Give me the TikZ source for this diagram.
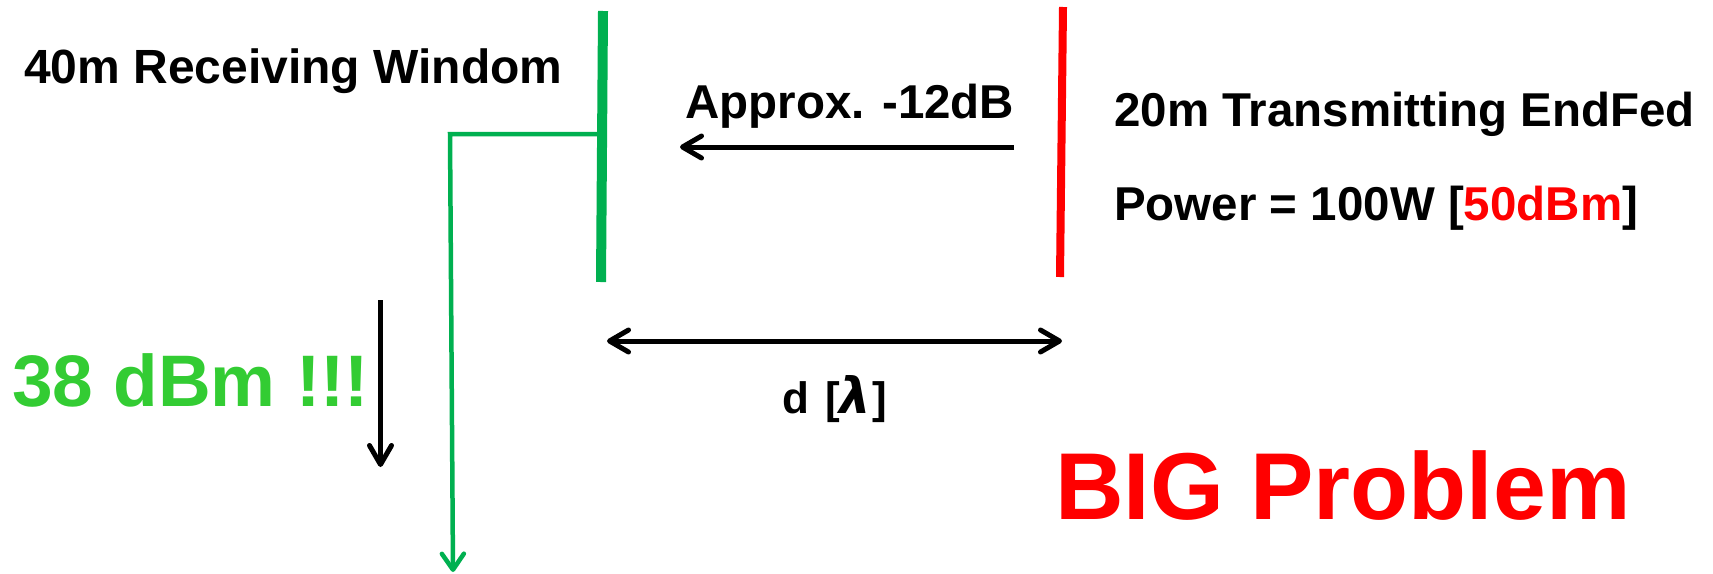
\documentclass[tikz,border=0pt]{standalone}
\usepackage{fontspec}
\setmainfont{Liberation Sans}
\newfontfamily\greekfont{DejaVu Sans}
\usetikzlibrary{arrows.meta}
\definecolor{antgreen}{HTML}{00B050}
\definecolor{txtgreen}{HTML}{33CC33}
\definecolor{antred}{HTML}{FF0000}
\begin{document}
\begin{tikzpicture}[x=1pt,y=-1pt,
  lbl/.style={anchor=base west, inner sep=0pt, font=\bfseries\fontsize{47.5}{57}\selectfont},
  barb/.style={-{Straight Barb[round,length=19pt,width=22pt]}},
  barbs/.style={{Straight Barb[round,length=19pt,width=22pt]}-{Straight Barb[round,length=19pt,width=22pt]}},
  blackarrow/.style={line width=5pt, black},
  rxant/.style={antgreen, line width=10pt},
  txant/.style={antred, line width=8pt},
  feedline/.style={antgreen, line width=4.5pt, line join=miter}]
\useasboundingbox (0,0) rectangle (1713,573);

% antennas
\coordinate (gtop) at (603,11);
\coordinate (gbot) at (601,282);
\coordinate (gfeed) at (601,134);
\coordinate (gcorner) at (450,134);
\coordinate (gend) at (453,572);
\coordinate (rtop) at (1063,7);
\coordinate (rbot) at (1060,277);
\draw[rxant] (gtop) -- (gbot);
\draw[txant] (rtop) -- (rbot);
\draw[feedline, -{Straight Barb[round,length=16pt,width=22pt]}] (gfeed) -- (gcorner) -- (gend);

% texts
\node[lbl, font=\bfseries\fontsize{48}{57}\selectfont] (rxlabel) at (24,83.3) {40m Receiving Windom};
\node[lbl] (approx) at (685,118) {Approx. -12dB};
\node[lbl] (txlabel) at (1114,126.5) {20m Transmitting EndFed};
\node[lbl] (power) at (1114,220.5) {Power = 100W [\textcolor{antred}{50dBm}]};
\node[anchor=base west, inner sep=0pt, font=\bfseries\fontsize{73}{88}\selectfont, text=txtgreen] (rxpower) at (12,406) {38 dBm !!!};
\node[anchor=base west, inner sep=0pt, font=\bfseries\fontsize{95}{114}\selectfont, text=antred] (big) at (1055,519) {BIG Problem};
\node[anchor=base west, inner sep=0pt, font=\bfseries\fontsize{44}{52}\selectfont] (dist) at (782,413) {d\hspace{16pt}[{\greekfont\bfseries\itshape\fontsize{50}{52}\selectfont λ}\kern1pt]};

% arrows
\coordinate (a1s) at (1014,147);
\coordinate (a1e) at (680,147);
\draw[blackarrow, barb] (a1s) -- (a1e);
\coordinate (d1) at (607,341);
\coordinate (d2) at (1062,341);
\draw[blackarrow, barbs] (d1) -- (d2);
\coordinate (v1) at (380.5,300);
\coordinate (v2) at (380.5,467);
\draw[blackarrow, barb] (v1) -- (v2);
\end{tikzpicture}
\end{document}
